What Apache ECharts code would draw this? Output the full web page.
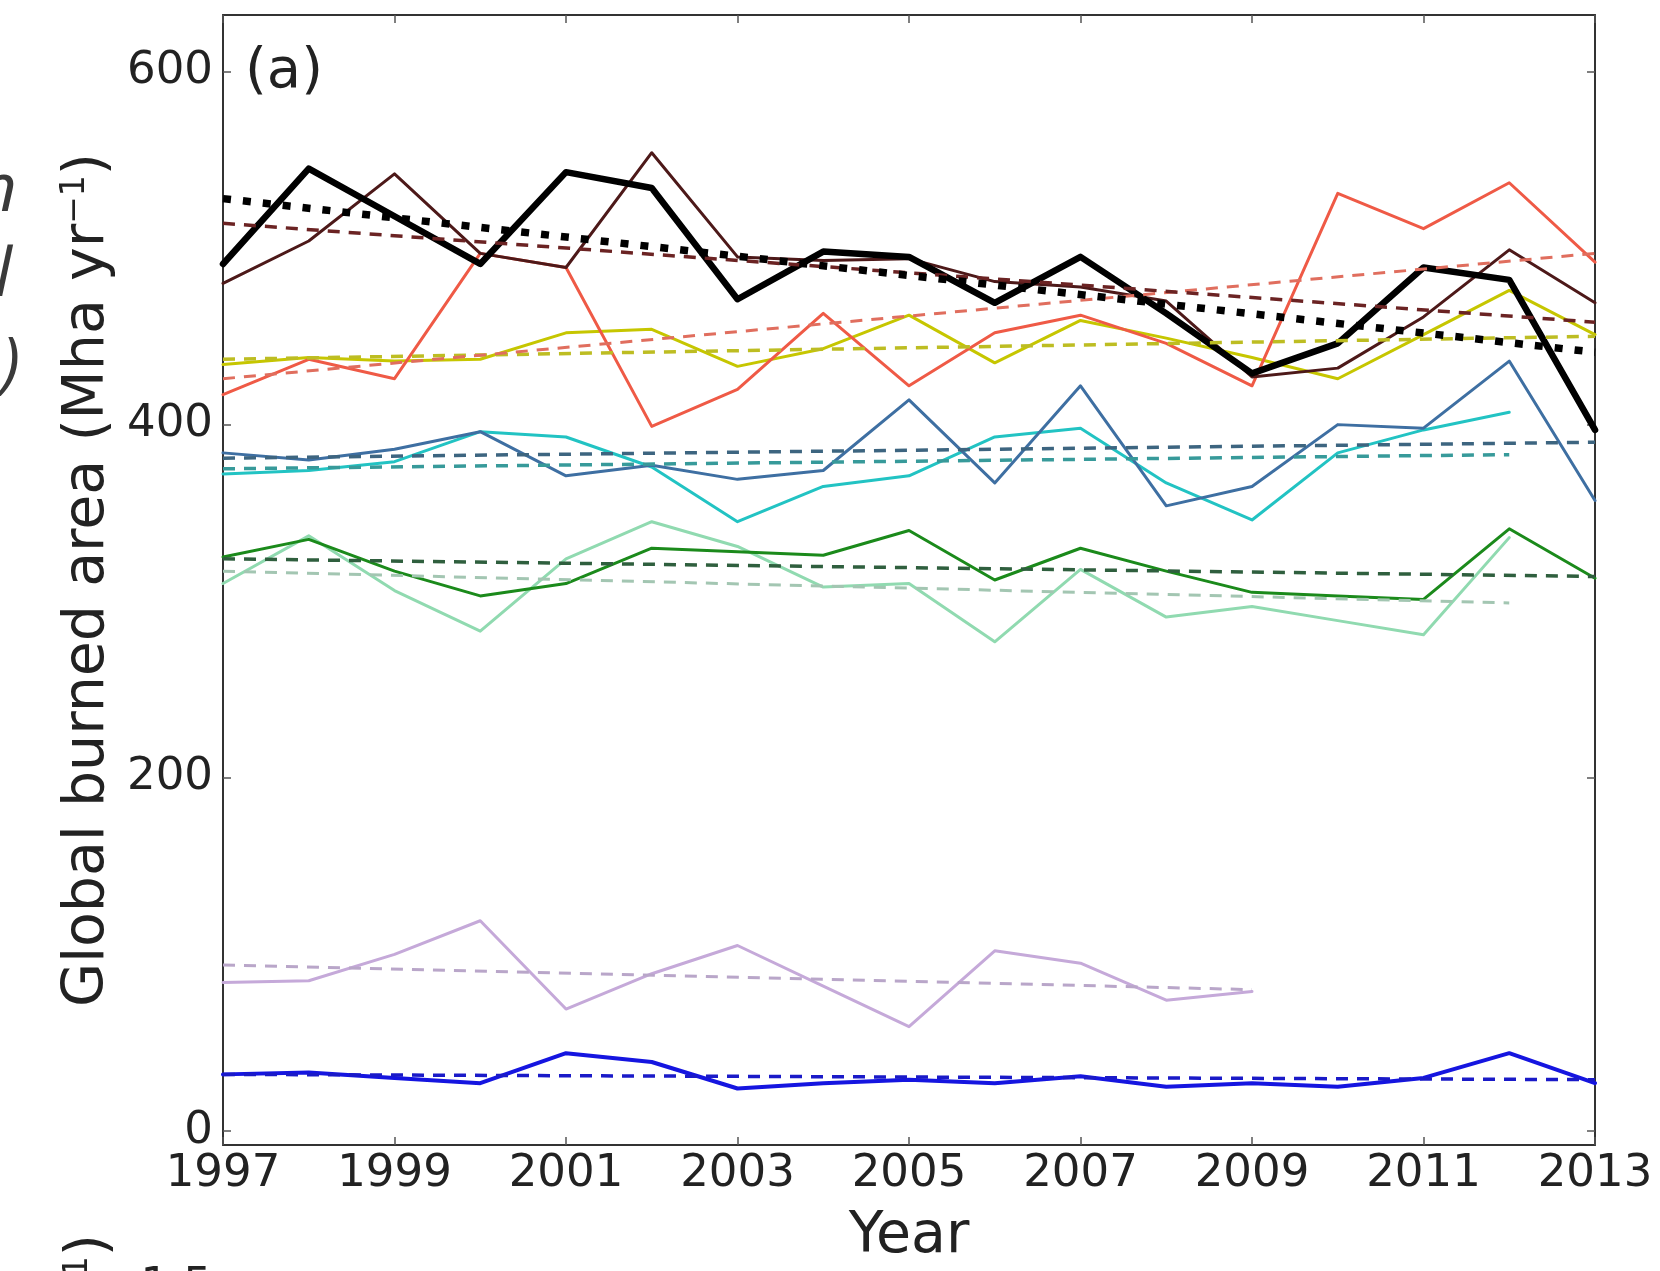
<!DOCTYPE html>
<html>
<head>
<meta charset="utf-8">
<script src="https://cdn.jsdelivr.net/npm/echarts@6/dist/echarts.min.js"></script>
<style>
html,body{margin:0;padding:0;background:#fff;}
#chart{width:1660px;height:1271px;}
</style>
</head>
<body>
<div id="chart"></div>
<script>
// ---- data ----
const years = [1997,1998,1999,2000,2001,2002,2003,2004,2005,2006,2007,2008,2009,2010,2011,2012,2013];
const xTicks = [1997,1999,2001,2003,2005,2007,2009,2011,2013];
const yTicks = [0,200,400,600];

const blackVals    = [491,545,518,491,543,534,471,498,495,469,495,463,429,446,489,482,397];
const brownVals    = [480,504,542,497,489,554,495,493,494,481,478,470,427,432,461,499,469];
const salmonVals   = [417,437,426,497,489,399,420,463,422,452,462,446,422,531,511,537,492];
const yellowVals   = [434,438,436,437,452,454,433,443,462,435,459,449,438,426,451,476,451];
const steelVals    = [384,380,386,396,371,377,369,374,414,367,422,354,365,400,398,436,357];
const cyanVals     = [372,374,379,396,393,376,345,365,371,393,398,367,346,384,397,407];
const dkgreenVals  = [325,335,317,303,310,330,328,326,340,312,330,317,305,303,301,341,313];
const ltgreenVals  = [310,337,306,283,324,345,331,308,310,277,318,291,297,289,281,336];
const lavenderVals = [84,85,100,119,69,89,105,82,59,102,95,74,79];
const blueVals     = [32,33,30,27,44,39,24,27,29,27,31,25,27,25,30,44,27];

// linear trend end points [start, end]
const trendFull   = [1997, 2013];
const trendTo2012 = [1997, 2012];
const trendTo2009 = [1997, 2009];
const blackTrend    = [528, 441];
const brownTrend    = [514, 458];
const salmonTrend   = [426, 497];
const yellowTrend   = [437, 450];
const steelTrend    = [381, 390];
const cyanTrend     = [375, 383];
const dkgreenTrend  = [324, 314];
const ltgreenTrend  = [317, 299];
const lavenderTrend = [94, 80];
const blueTrend     = [32, 29];

// ---- chart ----
const FONT = '"DejaVu Sans", sans-serif';

function line(name, vals, color, width) {
  return {
    name: name, type: 'line', showSymbol: false, symbol: 'none', silent: true,
    data: vals.map((v, i) => [years[i], v]),
    lineStyle: { color: color, width: width, join: 'round', cap: 'round' },
    z: 2
  };
}
function trend(name, yrs, vals, color, width, dash) {
  return {
    name: name, type: 'line', showSymbol: false, symbol: 'none', silent: true,
    data: [[yrs[0], vals[0]], [yrs[1], vals[1]]],
    lineStyle: { color: color, width: width, type: dash, cap: 'butt' },
    z: 3
  };
}

const DASH = [12, 9];
const series = [
  line('lavender', lavenderVals, '#c5a9d9', 3),
  trend('lavender trend', trendTo2009, lavenderTrend, '#b9a6c9', 3, DASH),
  line('blue', blueVals, '#1515e0', 4),
  trend('blue trend', trendFull, blueTrend, '#1a1ac8', 3.5, DASH),
  line('light green', ltgreenVals, '#90dab0', 3),
  trend('light green trend', trendTo2012, ltgreenTrend, '#a3c6b2', 3, DASH),
  line('dark green', dkgreenVals, '#1b8a1b', 3),
  trend('dark green trend', trendFull, dkgreenTrend, '#2f5f3e', 3.5, DASH),
  line('cyan', cyanVals, '#22c3c3', 3),
  trend('cyan trend', trendTo2012, cyanTrend, '#379a9a', 3.5, DASH),
  line('steel blue', steelVals, '#3e6fa2', 3),
  trend('steel blue trend', trendFull, steelTrend, '#3d6580', 3.5, DASH),
  line('yellow', yellowVals, '#c6c600', 3),
  trend('yellow trend', trendFull, yellowTrend, '#bdbd22', 3.5, DASH),
  line('salmon', salmonVals, '#ef5a46', 3),
  trend('salmon trend', trendFull, salmonTrend, '#e06e5e', 3, DASH),
  line('brown', brownVals, '#4d1919', 3),
  trend('brown trend', trendFull, brownTrend, '#6b2323', 3.5, DASH),
  line('black', blackVals, '#000000', 6.5),
  trend('black trend', trendFull, blackTrend, '#000000', 7.5, [8, 12])
];

const axisLine = { show: true, onZero: false, lineStyle: { color: '#333', width: 2 } };
const tick = { show: true, inside: true, length: 8, lineStyle: { color: '#555', width: 1.5 } };

const option = {
  animation: false,
  backgroundColor: '#ffffff',
  grid: { left: 223, right: 65, top: 15, bottom: 119, containLabel: false },
  xAxis: [
    {
      type: 'value', position: 'bottom', min: 1997, max: 2013,
      axisLine: axisLine,
      axisTick: Object.assign({}, tick, { customValues: xTicks }),
      axisLabel: { customValues: xTicks, fontSize: 45, fontFamily: FONT, color: '#222', margin: 7,
                   formatter: v => String(v) },
      splitLine: { show: false },
      name: 'Year', nameLocation: 'middle', nameGap: 64,
      nameTextStyle: { fontSize: 57, fontFamily: FONT, color: '#222' }
    },
    {
      type: 'value', position: 'top', min: 1997, max: 2013,
      axisLine: axisLine,
      axisTick: Object.assign({}, tick, { customValues: xTicks }),
      axisLabel: { show: false },
      splitLine: { show: false }
    }
  ],
  yAxis: [
    {
      type: 'value', position: 'left', min: -8, max: 632,
      axisLine: axisLine,
      axisTick: Object.assign({}, tick, { customValues: yTicks }),
      axisLabel: { customValues: yTicks, fontSize: 45, fontFamily: FONT, color: '#222', margin: 10 },
      splitLine: { show: false },
      name: 'Global burned area (Mha yr{sup|\u22121})', nameLocation: 'middle', nameGap: 102, nameRotate: 90,
      nameTextStyle: {
        fontSize: 57, fontFamily: FONT, color: '#222',
        rich: { sup: { fontSize: 33, fontFamily: FONT, color: '#222', verticalAlign: 'top', lineHeight: 57 } }
      }
    },
    {
      type: 'value', position: 'right', min: -8, max: 632,
      axisLine: axisLine,
      axisTick: Object.assign({}, tick, { customValues: yTicks }),
      axisLabel: { show: false },
      splitLine: { show: false }
    }
  ],
  series: series,
  graphic: [
    { type: 'text', left: 245, top: 44, z: 10,
      style: { text: '(a)', font: '56px ' + FONT, fill: '#222' } },
    // cut-off text from the neighbouring panel (left edge)
    { type: 'text', x: 17, y: 226, z: 10,
      style: { text: 'n', font: 'italic 68px "Open Sans", sans-serif', fill: '#3a3a3a', textAlign: 'right', textVerticalAlign: 'bottom' } },
    { type: 'text', x: 12, y: 311, z: 10,
      style: { text: 'l', font: 'italic 68px "Open Sans", sans-serif', fill: '#3a3a3a', textAlign: 'right', textVerticalAlign: 'bottom' } },
    { type: 'text', x: 20, y: 400, z: 10,
      style: { text: ')', font: 'italic 68px "Open Sans", sans-serif', fill: '#3a3a3a', textAlign: 'right', textVerticalAlign: 'bottom' } },
    // cut-off y label and tick label of the panel below
    { type: 'text', x: 90, y: 1234, rotation: Math.PI / 2, z: 10,
      style: { text: 'yr{sup|\u22121})', font: '57px ' + FONT, fill: '#222', textAlign: 'right', textVerticalAlign: 'middle',
               rich: { sup: { fontSize: 33, fontFamily: FONT, fill: '#222', verticalAlign: 'top', lineHeight: 57 } } } },
    { type: 'text', x: 212, y: 1265, z: 10,
      style: { text: '1.5', font: '45px ' + FONT, fill: '#222', textAlign: 'right', textVerticalAlign: 'top' } }
  ]
};

const chart = echarts.init(document.getElementById('chart'), null, { renderer: 'canvas' });
chart.setOption(option);
</script>
</body>
</html>
